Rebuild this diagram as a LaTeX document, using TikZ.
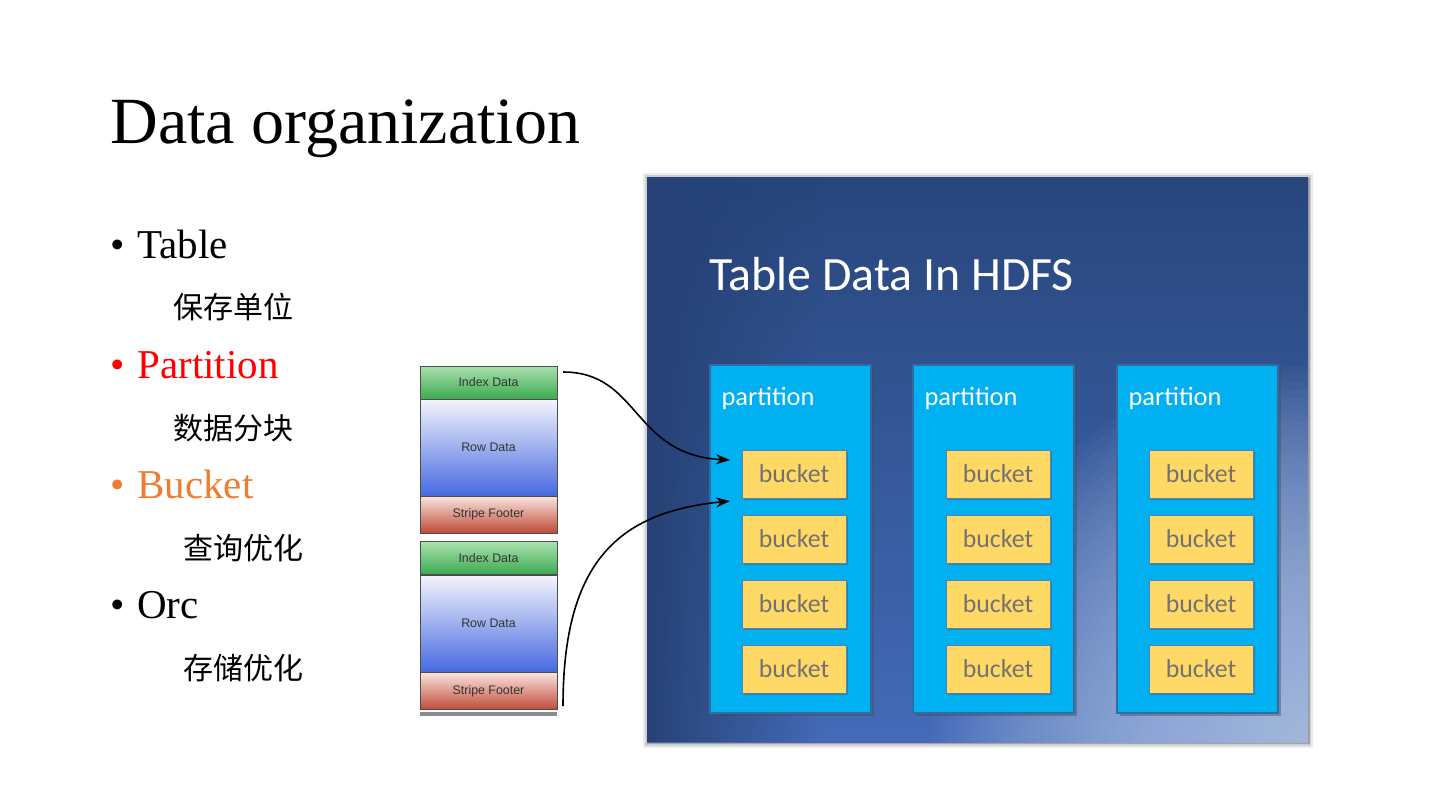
\documentclass[tikz,border=0pt]{standalone}
\usepackage{fontspec}
\setmainfont{Liberation Serif}
\newfontfamily\cjkfont{Noto Sans CJK SC}
\newfontfamily\calfont{Carlito}
\newfontfamily\arialfont{Liberation Sans}
\usetikzlibrary{shadows,shadings,fadings,arrows.meta,calc}
\definecolor{partfill}{HTML}{00B0F0}
\definecolor{partedge}{HTML}{2E6EA6}
\definecolor{buckfill}{HTML}{FFD966}
\definecolor{buckedge}{HTML}{5A7FAF}
\definecolor{bucktext}{HTML}{767171}
\definecolor{orangeb}{HTML}{ED7D31}
\definecolor{bgTop}{RGB}{40,70,124}
\definecolor{bgBot}{RGB}{68,106,184}
\definecolor{bgDark}{RGB}{38,66,118}
\definecolor{bgLight}{RGB}{196,214,245}
\definecolor{idxtop}{RGB}{170,225,175}
\definecolor{idxbot}{RGB}{60,170,80}
\definecolor{rowtop}{RGB}{245,245,252}
\definecolor{rowbot}{RGB}{70,105,225}
\definecolor{foottop}{RGB}{250,228,222}
\definecolor{footbot}{RGB}{190,75,55}
\tikzfading[name=fadeleft, left color=transparent!0, right color=transparent!100]
\tikzset{
  bullet/.style={anchor=base west, inner sep=0pt, font=\fontsize{20.5pt}{24pt}\selectfont},
  cjkline/.style={anchor=west, inner sep=0pt, font=\cjkfont\fontsize{15pt}{18pt}\selectfont},
  partbox/.style={draw=partedge, line width=0.8pt, fill=partfill, minimum width=80.5pt, minimum height=174pt, inner sep=0pt,
     drop shadow={shadow xshift=1.5pt, shadow yshift=-1.5pt, opacity=0.45, fill=black!70}},
  partlabel/.style={anchor=base west, inner sep=0pt, text=white, font=\calfont\fontsize{13.2pt}{15pt}\selectfont},
  buckbox/.style={draw=buckedge, line width=0.5pt, fill=buckfill, minimum width=52pt, minimum height=24pt, inner sep=0pt,
     text=bucktext, font=\calfont\fontsize{12.9pt}{15pt}\selectfont,
     drop shadow={shadow xshift=1.2pt, shadow yshift=-1.2pt, opacity=0.4, fill=black!70}},
  stripebase/.style={draw=black!70, line width=0.5pt, minimum width=68.5pt, inner sep=0pt, text=black!80,
     font=\arialfont\fontsize{6.2pt}{7pt}\selectfont},
  idxbox/.style={stripebase, minimum height=16.5pt, top color=idxtop, bottom color=idxbot},
  rowbox/.style={stripebase, minimum height=48.5pt, top color=rowtop, bottom color=rowbot},
  footbox/.style={stripebase, minimum height=18.5pt, top color=foottop, bottom color=footbot},
  conn/.style={black, line width=0.8pt, -{Stealth[length=7pt,width=5pt]}}
}
\begin{document}
\begin{tikzpicture}[x=0.5pt,y=-0.5pt]
\useasboundingbox (0,0) rectangle (1440,810);
\fill[white] (0,0) rectangle (1440,810);

% title
\node[anchor=base west, inner sep=0pt, font=\fontsize{33pt}{38pt}\selectfont] (title) at (110,143) {Data organization};

% bullets
\node[bullet] (b1) at (110,258) {\makebox[13.5pt][l]{\textbullet}Table};
\node[cjkline] (c1) at (173,307) {保存单位};
\node[bullet, text=red] (b2) at (110,378) {\makebox[13.5pt][l]{\textbullet}Partition};
\node[cjkline] (c2) at (173,428) {数据分块};
\node[bullet, text=orangeb] (b3) at (110,498) {\makebox[13.5pt][l]{\textbullet}Bucket};
\node[cjkline] (c3) at (183,548) {查询优化};
\node[bullet] (b4) at (110,618) {\makebox[13.5pt][l]{\textbullet}Orc};
\node[cjkline] (c4) at (183,668) {存储优化};

% big HDFS panel: soft shadow
\fill[black, opacity=0.08] (643,173) rectangle (1313,748);
\fill[black, opacity=0.12] (645,175) rectangle (1311,746);
\fill[black, opacity=0.20] (647,178) rectangle (1310,744);
% base vertical gradient
\shade[top color=bgTop, bottom color=bgBot] (647,177) rectangle (1308,742);
\begin{scope}
  \clip (647,177) rectangle (1308,742);
  \fill[bgDark, path fading=fadeleft] (647,177) rectangle (820,742);
  \foreach \r in {8,16,...,380}{
    \fill[bgLight, opacity=0.034] (1308,742) circle (\r);
  }
\end{scope}
\node[anchor=base west, inner sep=0pt, text=white, font=\calfont\fontsize{23.9pt}{28pt}\selectfont] (hdfs) at (709,290) {Table Data In HDFS};

% partitions
\foreach \i/\x/\bx in {1/790.5/794, 2/993.5/998, 3/1197.5/1201}{
  \node[partbox] (p\i) at (\x,539) {};
  \node[partlabel] (pl\i) at ($(p\i.north west)+(12,41)$) {partition};
  \node[buckbox] (k\i a) at (\bx,474) {bucket};
  \node[buckbox] (k\i b) at (\bx,539) {bucket};
  \node[buckbox] (k\i c) at (\bx,604) {bucket};
  \node[buckbox] (k\i d) at (\bx,669) {bucket};
}

% ORC stripes
\node[idxbox] (i1) at (488.5,382.5) {Index Data};
\node[rowbox] (r1) at (488.5,447.5) {Row Data};
\node[footbox] (f1) at (488.5,514.5) {Stripe Footer};
\node[idxbox] (i2) at (488.5,558) {Index Data};
\node[rowbox] (r2) at (488.5,623.5) {Row Data};
\node[footbox] (f2) at (488.5,691) {Stripe Footer};
\fill[black!45] (420,712) rectangle (557,716);

% connectors
\coordinate (s1) at (563,372);
\coordinate (e1) at (730,460);
\coordinate (s2) at (563,706);
\coordinate (e2) at (730,501);
\draw[conn] (s1) .. controls (640,372) and (632,455) .. (e1);
\draw[conn] (s2) .. controls (563,560) and (620,512) .. (e2);
\end{tikzpicture}
\end{document}
